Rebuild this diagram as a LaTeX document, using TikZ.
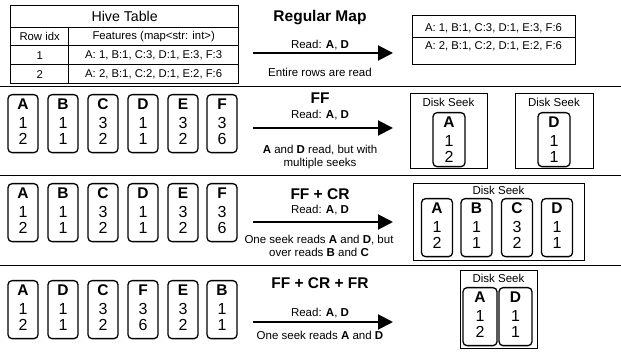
\documentclass[tikz,border=0pt]{standalone}
\usepackage{fontspec}
\setmainfont{Liberation Sans}
\usetikzlibrary{arrows.meta}
\newcommand\fsz[1]{\fontsize{#1}{#1}\selectfont}
\tikzset{
 cell/.style={draw, line width=1.3pt, inner sep=0pt, anchor=north west, font=\fsz{11.3}},
 colb/.style={draw, line width=1.3pt, rounded corners=4pt, minimum width=30pt, minimum height=58pt, inner sep=0pt, anchor=north},
 ctxt/.style={font=\fsz{16}, inner sep=0pt, anchor=base},
 cletter/.style={font=\bfseries\fsz{15.5}, inner sep=0pt, anchor=base},
 seek/.style={draw, line width=1.3pt, inner sep=0pt, anchor=north west},
 seeklbl/.style={font=\fsz{11.5}, inner sep=0pt},
 ttl/.style={font=\bfseries\fsz{15.5}, inner sep=0pt, anchor=base},
 sub/.style={font=\fsz{11.5}, inner sep=0pt, anchor=base},
 arr/.style={line width=2pt, -{Triangle[length=15pt,width=15pt]}},
 sepline/.style={line width=1pt},
}
\newcommand\mycol[7][]{%
 \node[colb, #1] (#2) at (#3,#4) {};
 \node[cletter] (#2l) at ([yshift=-16pt]#2.north) {#5};
 \node[ctxt] (#2a) at ([yshift=-35pt]#2.north) {#6};
 \node[ctxt] (#2b) at ([yshift=-50.5pt]#2.north) {#7};
}
\begin{document}
\begin{tikzpicture}[x=1pt,y=-1pt]
\useasboundingbox (0,0) rectangle (621,352);
% separators
\coordinate (s1l) at (0,87);  \coordinate (s1r) at (621,87);
\coordinate (s2l) at (0,176); \coordinate (s2r) at (621,176);
\coordinate (s3l) at (0,266); \coordinate (s3r) at (621,266);
\draw[sepline] (s1l) -- (s1r);
\draw[sepline] (s2l) -- (s2r);
\draw[sepline] (s3l) -- (s3r);

% Hive table
\node[cell, minimum width=228pt, minimum height=22pt, font=\fsz{14.2}] (ht) at (10,5) {Hive Table};
\node[cell, minimum width=58pt, minimum height=18pt] (h1) at (10,27) {Row idx};
\node[cell, minimum width=170pt, minimum height=18pt] (h2) at (68,27) {Features (map<str: int>)};
\node[cell, minimum width=58pt, minimum height=19pt] (c11) at (10,45) {1};
\node[cell, minimum width=170pt, minimum height=19pt] (c12) at (68,45) {A: 1, B:1, C:3, D:1, E:3, F:3};
\node[cell, minimum width=58pt, minimum height=19pt] (c21) at (10,64) {2};
\node[cell, minimum width=170pt, minimum height=19pt] (c22) at (68,64) {A: 2, B:1, C:2, D:1, E:2, F:6};

% Regular map
\node[ttl] (t0) at (320,21.7) {Regular Map};
\node[sub] (r0) at (320,48.3) {Read: \textbf{A}, \textbf{D}};
\coordinate (a0s) at (253,53); \coordinate (a0e) at (393,53);
\draw[arr] (a0s) -- (a0e);
\node[sub] (e0) at (320,76.7) {Entire rows are read};
\node[cell, minimum width=163pt, minimum height=22pt] (rm1) at (412,15) {};
\node[cell, minimum width=163pt, minimum height=27pt] (rm2) at (412,37) {};
\node[sub, font=\fsz{11.3}] (rm1t) at (493.5,31.7) {A: 1, B:1, C:3, D:1, E:3, F:6};
\node[sub, font=\fsz{11.3}] (rm2t) at (493.5,50) {A: 2, B:1, C:2, D:1, E:2, F:6};

% FF
\mycol{fA}{23}{94}{A}{1}{2}
\mycol{fB}{63}{94}{B}{1}{1}
\mycol{fC}{103}{94}{C}{3}{2}
\mycol{fD}{143}{94}{D}{1}{1}
\mycol{fE}{183}{94}{E}{3}{2}
\mycol{fF}{222}{94}{F}{3}{6}
\node[ttl] (t1) at (320,103.3) {FF};
\node[sub] (r1) at (320,118.3) {Read: \textbf{A}, \textbf{D}};
\coordinate (a1s) at (253,128); \coordinate (a1e) at (393,128);
\draw[arr] (a1s) -- (a1e);
\node[sub] (e1a) at (320,153.3) {\textbf{A} and \textbf{D} read, but with};
\node[sub] (e1b) at (320,166.7) {multiple seeks};
\node[seek, minimum width=77pt, minimum height=75pt] (sk1) at (410,93) {};
\node[seeklbl] (sk1l) at (448.5,102.5) {Disk Seek};
\mycol[minimum width=32pt, minimum height=54pt]{gA}{449}{112}{A}{1}{2}
\node[seek, minimum width=78pt, minimum height=75pt] (sk2) at (515,93) {};
\node[seeklbl] (sk2l) at (554,102.5) {Disk Seek};
\mycol[minimum width=32pt, minimum height=54pt]{gD}{554}{112}{D}{1}{1}

% FF + CR
\mycol{cA}{23}{183}{A}{1}{2}
\mycol{cB}{63}{183}{B}{1}{1}
\mycol{cC}{103}{183}{C}{3}{2}
\mycol{cD}{143}{183}{D}{1}{1}
\mycol{cE}{183}{183}{E}{3}{2}
\mycol{cF}{222}{183}{F}{3}{6}
\node[ttl] (t2) at (320,200) {FF + CR};
\node[sub] (r2) at (320,213.3) {Read: \textbf{A}, \textbf{D}};
\coordinate (a2s) at (253,222); \coordinate (a2e) at (393,222);
\draw[arr] (a2s) -- (a2e);
\node[sub] (e2a) at (319,243.3) {One seek reads \textbf{A} and \textbf{D}, but};
\node[sub] (e2b) at (319,256.7) {over reads \textbf{B} and \textbf{C}};
\node[seek, minimum width=171pt, minimum height=77pt] (sk3) at (413,183) {};
\node[seeklbl] (sk3l) at (498.5,190) {Disk Seek};
\mycol[minimum width=31pt]{hA}{437}{198}{A}{1}{2}
\mycol[minimum width=31pt]{hB}{476.5}{198}{B}{1}{1}
\mycol[minimum width=31pt]{hC}{517}{198}{C}{3}{2}
\mycol[minimum width=31pt]{hD}{557}{198}{D}{1}{1}

% FF + CR + FR
\mycol{dA}{23}{280}{A}{1}{2}
\mycol{dD}{63}{280}{D}{1}{1}
\mycol{dC}{103}{280}{C}{3}{2}
\mycol{dF}{143}{280}{F}{3}{6}
\mycol{dE}{183}{280}{E}{3}{2}
\mycol{dB}{222}{280}{B}{1}{1}
\node[ttl] (t3) at (320,288.3) {FF + CR + FR};
\node[sub] (r3) at (320,316.7) {Read: \textbf{A}, \textbf{D}};
\coordinate (a3s) at (253,322); \coordinate (a3e) at (393,322);
\draw[arr] (a3s) -- (a3e);
\node[sub] (e3) at (320,340) {One seek reads \textbf{A} and \textbf{D}};
\node[seek, minimum width=77pt, minimum height=78pt] (sk4) at (460,270) {};
\node[seeklbl] (sk4l) at (498.5,278) {Disk Seek};
\mycol[minimum width=34pt]{iA}{480}{287}{A}{1}{2}
\mycol[minimum width=33pt]{iD}{515.5}{287}{D}{1}{1}
\end{tikzpicture}
\end{document}
